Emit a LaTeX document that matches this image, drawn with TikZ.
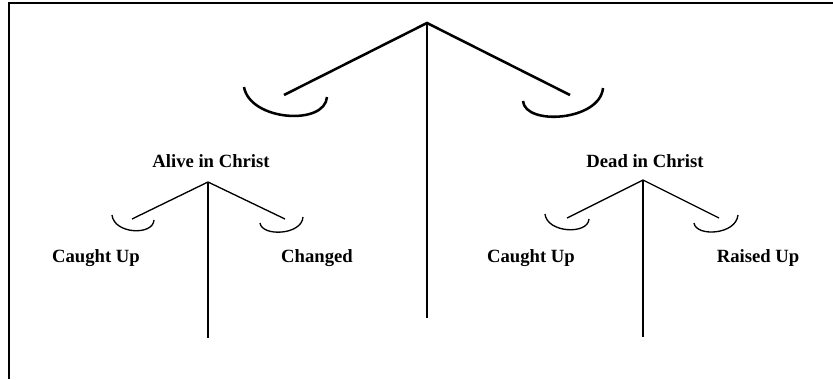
\documentclass[tikz,border=0pt]{standalone}
\usepackage{fontspec}
\setmainfont{Liberation Serif}
\usepackage{tikz}

\begin{document}
\begin{tikzpicture}[
  x=0.75pt, y=-0.75pt,
  frame/.style={line width=1.5pt},
  bigbeam/.style={line width=1.9pt},
  smallbeam/.style={line width=1pt},
  label/.style={font=\bfseries\fontsize{14}{16}\selectfont, inner sep=0pt}
]
\useasboundingbox (0,0) rectangle (833,379);

% Frame
\draw[frame] (9,379) -- (9,3) -- (834,3);

% Large balance
\coordinate (apex) at (427,23);
\coordinate (base) at (427,318);
\coordinate (armL) at (284,95);
\coordinate (armR) at (570,95);
\draw[bigbeam] (apex) -- (base);
\draw[bigbeam] (armL) -- (apex) -- (armR);
\draw[bigbeam] (244,87) .. controls (250,121) and (325,126) .. (327,97);
\draw[bigbeam] (523,101) .. controls (525,126) and (600,121) .. (603,88);

% Left small balance
\node[label] (alive) at (211,161) {Alive in Christ};
\coordinate (apexA) at (208,182);
\coordinate (baseA) at (208,338);
\draw[smallbeam] (apexA) -- (baseA);
\draw[smallbeam] (132,219) -- (apexA) -- (285,219);
\draw[smallbeam] (112,215) .. controls (114,234) and (153,236) .. (154,220);
\draw[smallbeam] (260,223) .. controls (262,237) and (302,235) .. (303,217);
\node[label] (caughtA) at (96,258) {Caught Up};
\node[label] (changed) at (317,258) {Changed};

% Right small balance
\node[label] (dead) at (645,161) {Dead in Christ};
\coordinate (apexD) at (643,180);
\coordinate (baseD) at (643,337);
\draw[smallbeam] (apexD) -- (baseD);
\draw[smallbeam] (567,218) -- (apexD) -- (719,218);
\draw[smallbeam] (545,214) .. controls (547,233) and (588,235) .. (589,219);
\draw[smallbeam] (694,223) .. controls (696,237) and (736,235) .. (738,215);
\node[label] (caughtD) at (531,258) {Caught Up};
\node[label] (raised) at (758,258) {Raised Up};

\end{tikzpicture}
\end{document}
